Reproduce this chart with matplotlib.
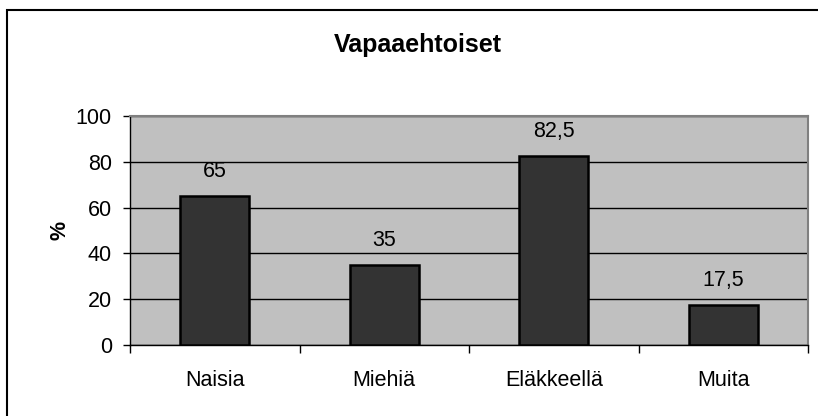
import matplotlib.pyplot as plt
import numpy as np
from matplotlib.patches import Rectangle

categories = ["Naisia", "Miehiä", "Eläkkeellä", "Muita"]
values = [65, 35, 82.5, 17.5]
value_labels = ["65", "35", "82,5", "17,5"]
yticks = [0, 20, 40, 60, 80, 100]

plt.rcParams["font.family"] = ["Liberation Sans", "DejaVu Sans"]

W, H = 818, 416
fig = plt.figure(figsize=(W / 100, H / 100), dpi=100)
ax = fig.add_axes([130 / W, 1 - 345 / H, (808 - 130) / W, (345 - 116) / H])

ax.set_facecolor("#c0c0c0")
x = np.arange(len(categories))
ax.set_axisbelow(True)
ax.yaxis.grid(True, color="black", linewidth=1)
ax.bar(x, values, width=0.41, color="#333333", edgecolor="black", linewidth=1.8, zorder=3)

for xi, v, lab in zip(x, values, value_labels):
    ax.annotate(lab, (xi, v), xytext=(0, 10), textcoords="offset points",
                ha="center", va="bottom", fontsize=15.5)

ax.set_xlim(-0.5, len(categories) - 0.5)
ax.set_ylim(0, 100)
ax.set_yticks(yticks)
ax.set_yticklabels([str(t) for t in yticks], fontsize=15.5)
ax.tick_params(axis="y", direction="out", length=5, width=1, pad=8)

ax.set_xticks(x)
ax.set_xticklabels(categories, fontsize=15.5)
ax.tick_params(axis="x", length=0, pad=18)
ax.set_xticks(np.arange(-0.5, len(categories)), minor=True)
ax.tick_params(axis="x", which="minor", direction="out", length=6, width=1)

for s in ["top", "right"]:
    ax.spines[s].set_color("#808080")
    ax.spines[s].set_linewidth(1.5)
for s in ["left", "bottom"]:
    ax.spines[s].set_color("black")
    ax.spines[s].set_linewidth(1)

ax.set_ylabel("%", fontsize=15.5, fontweight="bold", labelpad=4)
fig.text(418 / W, 1 - 45 / H, "Vapaaehtoiset", ha="center", va="center",
         fontsize=18, fontweight="bold")

fig.patches.append(Rectangle((7 / W, -0.1), 1.1, 1 - 10 / H + 0.1,
                             transform=fig.transFigure, fill=False,
                             edgecolor="black", linewidth=1.5))

fig.savefig("out.png", dpi=100)
